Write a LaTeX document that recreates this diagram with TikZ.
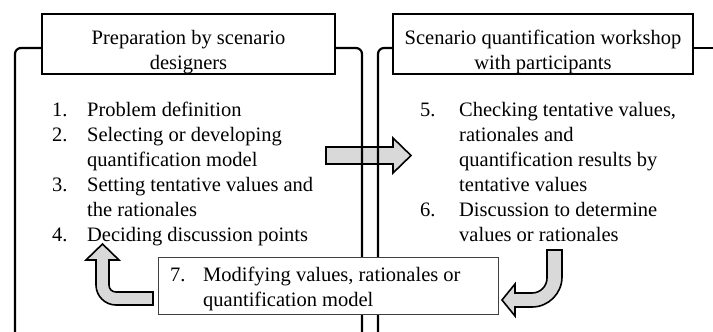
\documentclass[tikz,border=0pt]{standalone}
\usepackage{fontspec}
\setmainfont{Liberation Serif}
\begin{document}
\begin{tikzpicture}[x=1pt, y=-1pt, font=\fontsize{20.5}{25}\selectfont,
    panel/.style={line width=2.2pt, rounded corners=6pt},
    header/.style={draw, line width=2pt, fill=white, minimum height=58pt, align=center, inner sep=0pt},
    steplist/.style={anchor=base west, inner sep=0pt},
    blockarrow/.style={draw, line width=1.6pt, fill=black!15, line join=miter}]
  \useasboundingbox (0,0) rectangle (713,332);
  % arrow from preparation to workshop
  \draw[blockarrow] (326,147) -- (393,147) -- (393,138) -- (411,155.5) -- (393,173) -- (393,164) -- (326,164) -- cycle;
  % panels
  \draw[panel] (42,48) -- (15,48) -- (15,332);
  \draw[panel] (335,48) -- (362,48) -- (362,332);
  \draw[panel] (393,48) -- (378,48) -- (378,332);
  \draw[panel] (693,48) -- (713,48);
  % headers
  \node[header, minimum width=293pt] (prep) at (188.5,44) {\rule{0pt}{30pt}Preparation by scenario\\designers};
  \node[header, minimum width=300pt] (work) at (543,44) {\rule{0pt}{30pt}Scenario quantification workshop\\with participants};
  % steps
  \node[steplist] (preplist) at (52,116.5) {\begin{tabular}[t]{@{}p{35pt}@{}l@{}}
    1. & Problem definition\\
    2. & Selecting or developing\\
       & quantification model\\
    3. & Setting tentative values and\\
       & the rationales\\
    4. & Deciding discussion points
  \end{tabular}};
  \node[steplist] (worklist) at (420,116.5) {\begin{tabular}[t]{@{}p{39pt}@{}l@{}}
    5. & Checking tentative values,\\
       & rationales and\\
       & quantification results by\\
       & tentative values\\
    6. & Discussion to determine\\
       & values or rationales
  \end{tabular}};
  % feedback step
  \node[draw=black!75, line width=0.8pt, fill=white, minimum width=340pt, minimum height=57pt, inner sep=0pt] (modify) at (328,285.5) {};
  \node[steplist] (modtext) at (170,281) {\begin{tabular}[t]{@{}p{33pt}@{}l@{}}
    7. & Modifying values, rationales or\\
       & quantification model
  \end{tabular}};
  % loop arrows
  \draw[blockarrow] (153,305) -- (116,305) .. controls (105,305) and (96,296) .. (96,285) -- (96,260) -- (86,260) -- (102.5,244) -- (119,260) -- (109,260) -- (109,285) .. controls (109,289) and (112,292) .. (116,292) -- (153,292) -- cycle;
  \draw[blockarrow] (547,250) -- (562,250) -- (562,277) .. controls (562,293.5) and (548.5,307) .. (532,307) -- (515,307) -- (515,316) -- (502,300) -- (515,284) -- (515,293) -- (532,293) .. controls (540.3,293) and (547,286.3) .. (547,278) -- cycle;
\end{tikzpicture}
\end{document}
